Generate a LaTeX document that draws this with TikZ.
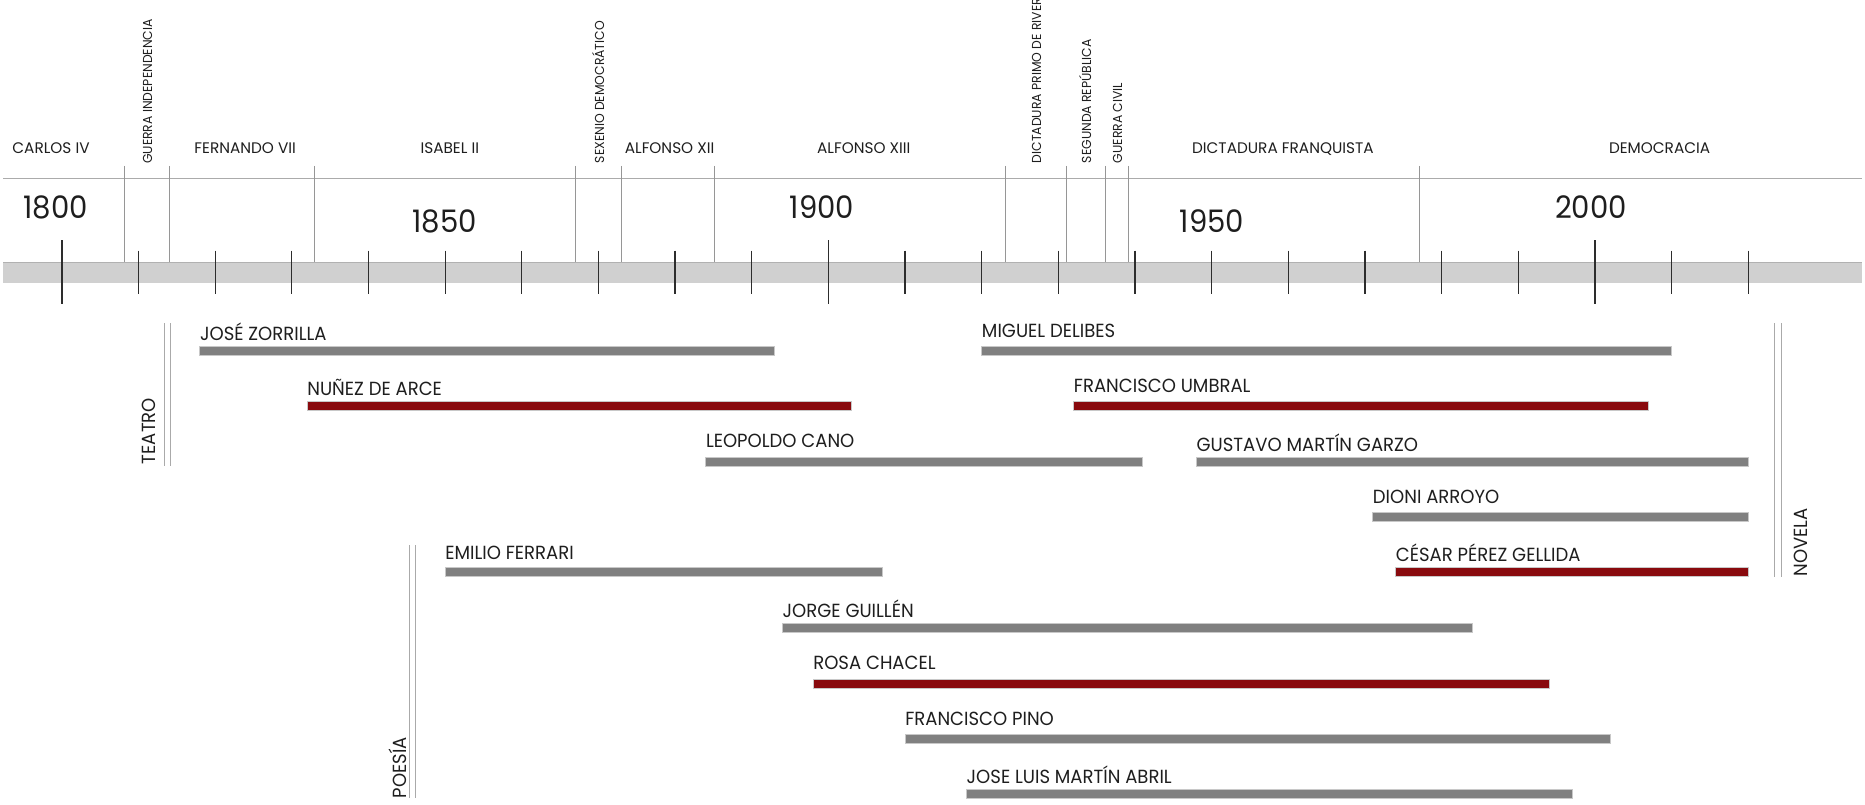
\documentclass[tikz,border=0pt]{standalone}
\usepackage{fontspec}
\setmainfont{Poppins}[FakeStretch=0.95]
\newfontfamily\periodfont{Poppins}
\newfontfamily\yearfont{Poppins}[FakeStretch=0.94]
\usetikzlibrary{positioning}

\definecolor{bandgray}{RGB}{208,208,208}
\definecolor{linegray}{RGB}{150,150,150}
\definecolor{tickgray}{RGB}{45,45,45}
\definecolor{bargray}{RGB}{128,128,128}
\definecolor{barred}{RGB}{137,10,14}
\definecolor{rimgray}{RGB}{200,200,200}
\definecolor{inkgray}{RGB}{30,30,30}

\begin{document}
\begin{tikzpicture}[x=1pt, y=-1pt,
    period/.style={font=\periodfont\fontsize{15.3}{17}\selectfont, text=inkgray, inner sep=0pt, anchor=base},
    vperiod/.style={font=\fontsize{13}{15}\selectfont, text=inkgray, inner sep=0pt, rotate=90, anchor=base west},
    yearlabel/.style={font=\yearfont\fontsize{31}{34}\selectfont, text=inkgray, inner sep=0pt, anchor=base},
    genre/.style={font=\fontsize{19}{21}\selectfont, text=inkgray, inner sep=0pt, rotate=90, anchor=base west},
    author/.style={font=\fontsize{19}{21}\selectfont, text=inkgray, inner sep=0pt, anchor=base west},
    bar/.style={draw=rimgray, line width=0.9pt},
    divider/.style={draw=linegray, line width=0.8pt},
    ticker/.style={draw=tickgray, line width=1.3pt},
    rule/.style={draw=rimgray!85!black, line width=1pt}]
  \useasboundingbox (0,0) rectangle (1865,805);

  % time axis
  \fill[bandgray] (3.3,261.7) rectangle (1861.7,283.3);
  \draw[bandgray!85!black, line width=0.6pt] (3.3,262) -- (1861.7,262);
  \draw[linegray!80, line width=1pt] (3.3,178.7) -- (1861.7,178.7);
  \foreach \yr [evaluate=\yr as \x using 61.85+7.666*(\yr-1800)] in {1810,1820,...,2020}
    \draw[ticker] (\x,250.7) -- (\x,294);
  \foreach \yr [evaluate=\yr as \x using 61.85+7.666*(\yr-1800)] in {1800,1900,2000}
    \draw[ticker] (\x,240) -- (\x,304.3);

  % period limits
  \foreach \yr [evaluate=\yr as \x using 61.85+7.666*(\yr-1800)] in {1808.1,1814,1833,1867,1873,1885.1,1923.1,1931.1,1936.1,1939.1,1977.1}
    \draw[divider] (\x,166) -- (\x,261.7);

  % years
  \node[yearlabel] (y1800) at (55.5,218.3) {1800};
  \node[yearlabel] (y1850) at (444.8,232.3) {1850};
  \node[yearlabel] (y1900) at (822,218.3) {1900};
  \node[yearlabel] (y1950) at (1212,232.3) {1950};
  \node[yearlabel] (y2000) at (1591,218.3) {2000};

  % reigns and periods
  \node[period] (carlos) at (51,153.3) {CARLOS IV};
  \node[period] (fernando) at (245.2,153.3) {FERNANDO VII};
  \node[period] (isabel) at (449.8,153.3) {ISABEL II};
  \node[period] (alfonso12) at (669.6,153.3) {ALFONSO XII};
  \node[period] (alfonso13) at (863.8,153.3) {ALFONSO XIII};
  \node[period] (franco) at (1282.9,153.3) {DICTADURA FRANQUISTA};
  \node[period] (democ) at (1659.6,153.3) {DEMOCRACIA};
  \node[vperiod] (indep) at (152.2,164) {GUERRA INDEPENDENCIA};
  \node[vperiod] (sexenio) at (604,163.3) {SEXENIO DEMOCRÁTICO};
  \node[vperiod] (primo) at (1041,163.3) {DICTADURA PRIMO DE RIVERA};
  \node[vperiod] (republica) at (1091,163.3) {SEGUNDA REPÚBLICA};
  \node[vperiod] (civil) at (1122,163.3) {GUERRA CIVIL};

  % genres
  \draw[rule] (164,323.3) -- (164,465.7) (170.3,323.3) -- (170.3,465.7);
  \draw[rule] (409.3,545) -- (409.3,798.3) (415.3,545) -- (415.3,798.3);
  \draw[rule] (1774.3,323.3) -- (1774.3,576.7) (1781,323.3) -- (1781,576.7);
  \node[genre] (teatro) at (155,464.3) {TEATRO};
  \node[genre] (poesia) at (406,798.3) {POESÍA};
  \node[genre] (novela) at (1807.3,576.7) {NOVELA};

  % authors
  \foreach \from/\to/\top/\base/\col/\name [count=\i,
      evaluate=\from as \xa using 61.85+7.666*(\from-1800),
      evaluate=\to as \xb using 61.85+7.666*(\to-1800)] in {
      1818/1893/346/340.7/bargray/JOSÉ ZORRILLA,
      1832/1903/401.7/395.7/barred/NUÑEZ DE ARCE,
      1884/1941/457.3/447.7/bargray/LEOPOLDO CANO,
      1920/2010/346/337.3/bargray/MIGUEL DELIBES,
      1932/2007/401.7/392.3/barred/FRANCISCO UMBRAL,
      1948/2020/457.3/451/bargray/GUSTAVO MARTÍN GARZO,
      1971/2020/512.3/503.3/bargray/DIONI ARROYO,
      1974/2020/567.7/561.7/barred/CÉSAR PÉREZ GELLIDA,
      1850/1907/567.7/559.3/bargray/EMILIO FERRARI,
      1894/1984/623.3/617.3/bargray/JORGE GUILLÉN,
      1898/1994/679/669.3/barred/ROSA CHACEL,
      1910/2002/734/725/bargray/FRANCISCO PINO,
      1918/1997/789.3/783.3/bargray/JOSE LUIS MARTÍN ABRIL}
  {
    \draw[bar, fill=\col] (\xa,\top) rectangle (\xb,\top+9);
    \node[author] (auth\i) at (\xa,\base) {\name};
  }
\end{tikzpicture}
\end{document}
